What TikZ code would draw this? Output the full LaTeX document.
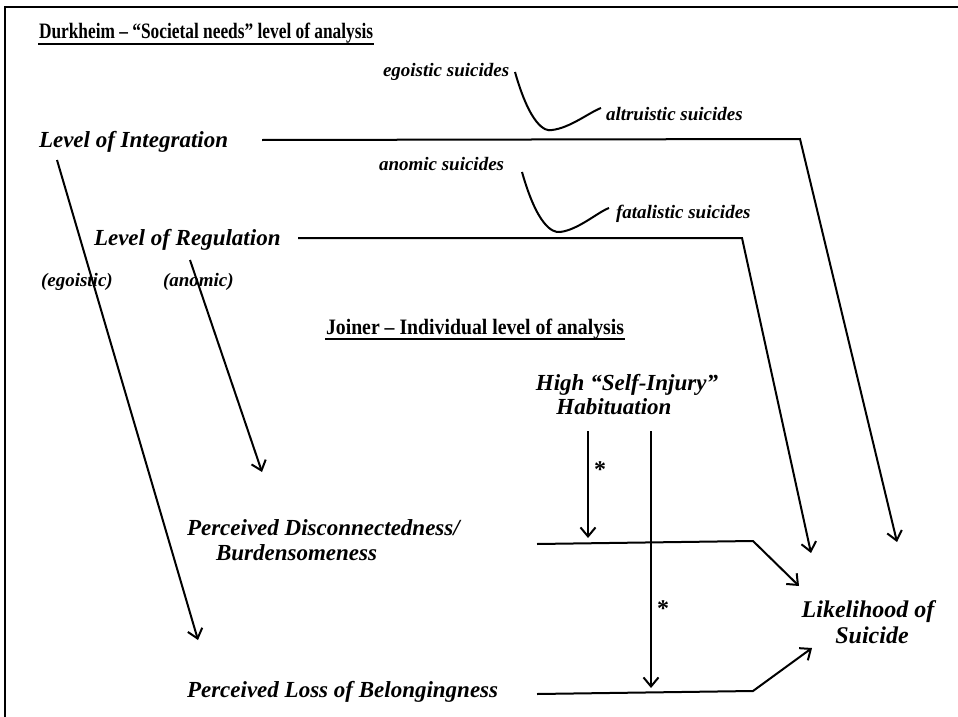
\documentclass[tikz,border=0pt]{standalone}
\usepackage{fontspec}
\setmainfont{Liberation Serif}
\usetikzlibrary{arrows.meta}
\begin{document}
\begin{tikzpicture}[x=1pt,y=-1pt,line width=2pt,
  big/.style={font=\bfseries\itshape\fontsize{23}{25}\selectfont,inner sep=0pt,anchor=base west},
  sml/.style={font=\bfseries\itshape\fontsize{19}{21}\selectfont,inner sep=0pt,anchor=base west},
  ttl/.style={font=\bfseries\fontsize{22}{24}\selectfont,inner sep=0pt,anchor=base west},
  star/.style={font=\bfseries\fontsize{24}{26}\selectfont,inner sep=0pt},
  arr/.style={-{Straight Barb[length=9pt,width=15pt,line width=2pt]}},
  uline/.style={line width=2pt}]
\useasboundingbox (0,0) rectangle (958,717);
% frame (top and left only)
\draw[line width=2pt] (958,7) -- (5,7) -- (5,717);

% titles
\node[ttl] (t1) at (38,39) {\scalebox{0.788}[1]{Durkheim – “Societal needs” level of analysis}};
\draw[uline] ([yshift=-5pt]t1.base west) -- ([yshift=-5pt]t1.base east);
\node[ttl] (t2) at (325,334) {\scalebox{0.898}[1]{Joiner – Individual level of analysis}};
\draw[uline] ([yshift=-5pt]t2.base west) -- ([yshift=-5pt]t2.base east);

% labels
\node[sml] (ego) at (382,77) {egoistic suicides};
\node[sml] (alt) at (605,120) {altruistic suicides};
\node[big] (integ) at (38,147) {Level of Integration};
\node[sml] (ano) at (378,170) {anomic suicides};
\node[sml] (fat) at (615,218) {fatalistic suicides};
\node[big] (reg) at (93,245) {Level of Regulation};
\node[sml] (egp) at (40,286) {(egoistic)};
\node[sml] (anp) at (162,286) {(anomic)};
\node[big,anchor=base] (high) at (627,390) {High “Self-Injury”};
\node[big,anchor=base] (hab) at (614,414) {Habituation};
\node[big] (disc) at (186,535) {Perceived Disconnectedness/};
\node[big] (burd) at (215,560) {Burdensomeness};
\node[big] (loss) at (186,697) {Perceived Loss of Belongingness};
\node[big,anchor=base,font=\bfseries\itshape\fontsize{24}{26}\selectfont] (lik) at (868,617) {Likelihood of};
\node[big,anchor=base,font=\bfseries\itshape\fontsize{24}{26}\selectfont] (sui) at (872,643) {Suicide};
\node[star] (s1) at (600,470) {*};
\node[star] (s2) at (663,609) {*};

% coordinates
\coordinate (ia) at (262,140);
\coordinate (ib) at (800,139);
\coordinate (ic) at (897,542);
\coordinate (ra) at (298,238);
\coordinate (rb) at (742,238);
\coordinate (rc) at (811,553);
\coordinate (da) at (537,544);
\coordinate (db) at (753,541);
\coordinate (dc) at (799,586);
\coordinate (la) at (537,694);
\coordinate (lb) at (753,691);
\coordinate (lc) at (812,648);
\coordinate (h1a) at (588,431);
\coordinate (h1b) at (588,538);
\coordinate (h2a) at (651,431);
\coordinate (h2b) at (651,688);
\coordinate (g1a) at (57,160);
\coordinate (g1b) at (198,640);
\coordinate (g2a) at (190,260);
\coordinate (g2b) at (262,472);

% curves
\draw (515,72) .. controls (530,125) and (545,132) .. (552,130) .. controls (570,128) and (590,112) .. (601,108);
\draw (522,172) .. controls (537,225) and (552,233) .. (560,232) .. controls (578,230) and (598,212) .. (609,208);

% connectors
\draw[arr] (ia) -- (ib) -- (ic);
\draw[arr] (ra) -- (rb) -- (rc);
\draw[arr] (da) -- (db) -- (dc);
\draw[arr] (la) -- (lb) -- (lc);
\draw[arr] (h1a) -- (h1b);
\draw[arr] (h2a) -- (h2b);
\draw[arr] (g1a) -- (g1b);
\draw[arr] (g2a) -- (g2b);
\end{tikzpicture}
\end{document}
